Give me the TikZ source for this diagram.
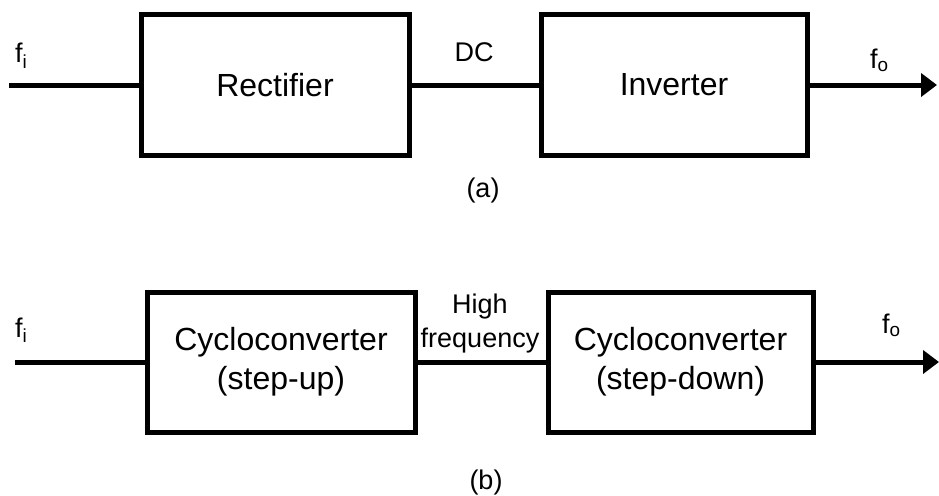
\documentclass[tikz,border=0pt]{standalone}
\usepackage{fontspec}
\setmainfont{Liberation Sans}
\usetikzlibrary{arrows.meta}
\begin{document}
\begin{tikzpicture}[x=1pt,y=-1pt,
  blk/.style={draw, line width=5pt, rectangle, minimum height=140pt, inner sep=0pt, align=center,
    font=\fontsize{32}{39}\selectfont},
  wire/.style={line width=5pt},
  arr/.style={line width=5pt, -{Triangle[length=16pt,width=23pt]}},
  lbl/.style={inner sep=0pt, font=\fontsize{27}{33}\selectfont}]
\useasboundingbox (0,0) rectangle (939,495);
% (a)
\node[blk, minimum width=268pt] (rect) at (275,85) {Rectifier};
\node[blk, minimum width=266pt] (inv) at (674,85) {Inverter};
\coordinate (ina) at (9,85);
\coordinate (outa) at (937,85);
\draw[wire] (ina) -- (rect.west);
\draw[wire] (rect.east) -- (inv.west);
\draw[arr] (inv.east) -- (outa);
\node[lbl, anchor=base west] (fia) at (15,63) {f\textsubscript{i}};
\node[lbl, anchor=base] (dc) at (474,61) {DC};
\node[lbl, anchor=base west] (foa) at (870,68) {f\textsubscript{o}};
\node[lbl, anchor=base] (capa) at (483,197) {(a)};
% (b)
\node[blk, minimum width=268pt] (cyc1) at (281,362) {Cycloconverter\\(step-up)};
\node[blk, minimum width=265pt] (cyc2) at (680.5,362) {Cycloconverter\\(step-down)};
\coordinate (inb) at (15,362);
\coordinate (outb) at (939,362);
\draw[wire] (inb) -- (cyc1.west);
\draw[wire] (cyc1.east) -- (cyc2.west);
\draw[arr] (cyc2.east) -- (outb);
\node[lbl, anchor=base west] (fib) at (15,337) {f\textsubscript{i}};
\node[lbl, anchor=base] (hf) at (480,313) {High};
\node[lbl, anchor=base] (hf2) at (480,347) {frequency};
\node[lbl, anchor=base west] (fob) at (882,333) {f\textsubscript{o}};
\node[lbl, anchor=base] (capb) at (486,489) {(b)};
\end{tikzpicture}
\end{document}
